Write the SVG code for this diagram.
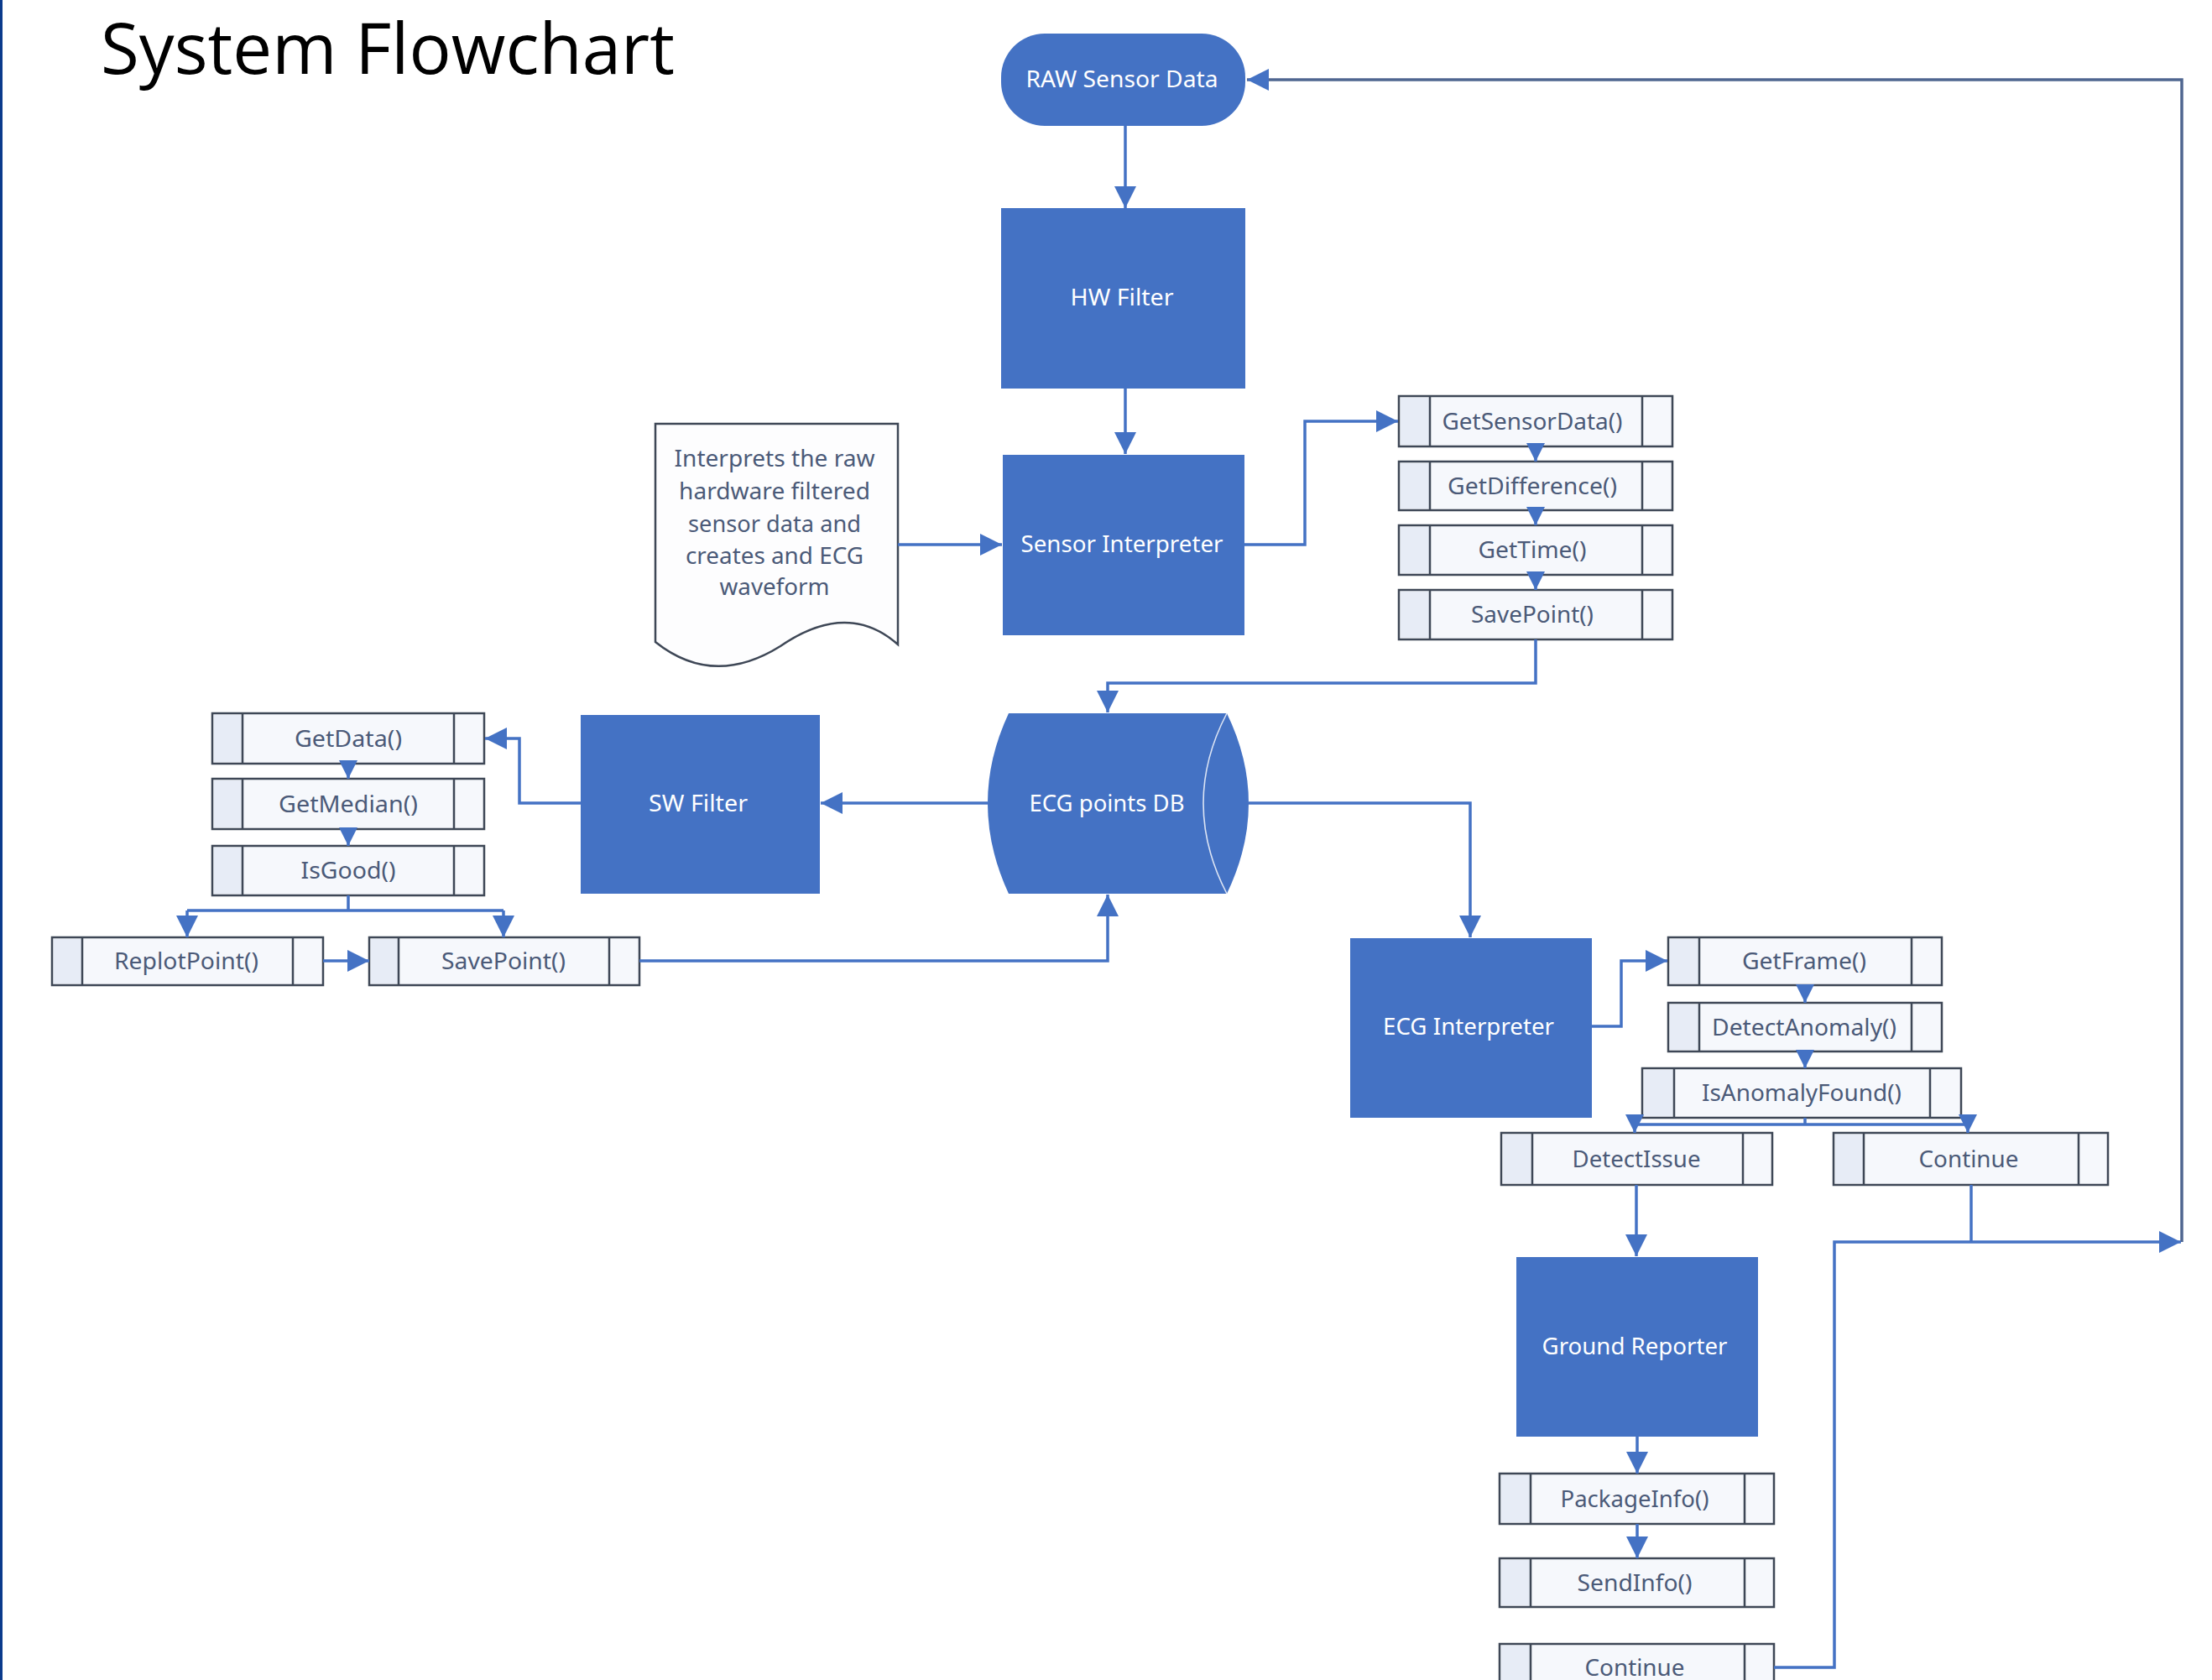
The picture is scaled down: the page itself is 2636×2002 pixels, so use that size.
<svg xmlns="http://www.w3.org/2000/svg" width="2636" height="2002" viewBox="0 0 2636 2002">
<style>
.bg{fill:#ffffff}
.node{fill:#4472C4}
.wt{font-family:"Noto Sans","Open Sans","Liberation Sans",sans-serif;font-size:27px;fill:#ffffff;text-anchor:middle}
.bt{font-family:"Noto Sans","Open Sans","Liberation Sans",sans-serif;font-size:28px;fill:#4B5A78;text-anchor:middle}
.box{fill:#F6F8FC;stroke:#3E4756;stroke-width:2.5}
.band{fill:#E7ECF6}
.div{stroke:#3E4756;stroke-width:2.5}
.con{fill:none;stroke:#4472C4;stroke-width:3.5}
.ret{fill:none;stroke:#4F6690;stroke-width:3.5}
.doc{fill:#FDFDFE;stroke:#3E4756;stroke-width:2.5}
</style>
<defs>
<marker id="ah" viewBox="0 0 10 10" refX="10" refY="5" markerWidth="28" markerHeight="26" markerUnits="userSpaceOnUse" orient="auto"><path d="M0,0 L10,5 L0,10 z" fill="#4472C4"/></marker>
<marker id="as" viewBox="0 0 10 10" refX="10" refY="5" markerWidth="24" markerHeight="22" markerUnits="userSpaceOnUse" orient="auto"><path d="M0,0 L10,5 L0,10 z" fill="#4472C4"/></marker>
</defs>
<rect class="bg" x="0" y="0" width="2636" height="2002"/>
<rect x="0" y="0" width="3" height="2002" fill="#0B3A8C"/>
<text x="120" y="88" font-family="'Open Sans','Liberation Sans',sans-serif" font-size="84" fill="#000000" textLength="684" lengthAdjust="spacingAndGlyphs">System Flowchart</text>

<g id="raw-sensor-data">
<rect class="node" x="1193" y="40" width="291" height="110" rx="52" ry="52"/>
<text class="wt" x="1337" y="104" textLength="229" lengthAdjust="spacingAndGlyphs">RAW Sensor Data</text>
</g>
<g id="hw-filter">
<rect class="node" x="1193" y="248" width="291" height="215"/>
<text class="wt" x="1337" y="364" textLength="123" lengthAdjust="spacingAndGlyphs">HW Filter</text>
</g>
<g id="sensor-interpreter">
<rect class="node" x="1195" y="542" width="288" height="215"/>
<text class="wt" x="1337" y="658" textLength="241" lengthAdjust="spacingAndGlyphs">Sensor Interpreter</text>
</g>
<g id="doc-note">
<path class="doc" d="M781,505 H1070 V768 Q1010,715 930,770 Q850,820 781,765 Z"/>
<text class="bt" x="923" y="556" textLength="239" lengthAdjust="spacingAndGlyphs">Interprets the raw</text>
<text class="bt" x="923" y="595" textLength="228" lengthAdjust="spacingAndGlyphs">hardware filtered</text>
<text class="bt" x="923" y="634" textLength="206" lengthAdjust="spacingAndGlyphs">sensor data and</text>
<text class="bt" x="923" y="672" textLength="212" lengthAdjust="spacingAndGlyphs">creates and ECG</text>
<text class="bt" x="923" y="709" textLength="131" lengthAdjust="spacingAndGlyphs">waveform</text>
</g>
<g id="ecg-points-db">
<path class="node" d="M1202,850 H1462 Q1514,957 1462,1065 H1202 Q1152,957 1202,850 Z"/>
<path d="M1462,850 Q1406,957 1462,1065" fill="none" stroke="#DCE4F4" stroke-width="1.6"/>
<text class="wt" x="1319" y="967" textLength="185" lengthAdjust="spacingAndGlyphs">ECG points DB</text>
</g>
<g id="sw-filter">
<rect class="node" x="692" y="852" width="285" height="213"/>
<text class="wt" x="832" y="967" textLength="118" lengthAdjust="spacingAndGlyphs">SW Filter</text>
</g>
<g id="ecg-interpreter">
<rect class="node" x="1609" y="1118" width="288" height="214"/>
<text class="wt" x="1750" y="1233" textLength="204" lengthAdjust="spacingAndGlyphs">ECG Interpreter</text>
</g>
<g id="ground-reporter">
<rect class="node" x="1807" y="1498" width="288" height="214"/>
<text class="wt" x="1948" y="1614" textLength="221" lengthAdjust="spacingAndGlyphs">Ground Reporter</text>
</g>

<g id="get-sensor-data"><rect class="box" x="1667" y="472" width="326" height="60"/><rect class="band" x="1669" y="474" width="35" height="56"/><path class="div" d="M1704,472 V532 M1957,472 V532"/><text class="bt" x="1826" y="512" textLength="215" lengthAdjust="spacingAndGlyphs">GetSensorData()</text></g>
<g id="get-difference"><rect class="box" x="1667" y="550" width="326" height="58"/><rect class="band" x="1669" y="552" width="35" height="54"/><path class="div" d="M1704,550 V608 M1957,550 V608"/><text class="bt" x="1826" y="589" textLength="202" lengthAdjust="spacingAndGlyphs">GetDifference()</text></g>
<g id="get-time"><rect class="box" x="1667" y="626" width="326" height="59"/><rect class="band" x="1669" y="628" width="35" height="55"/><path class="div" d="M1704,626 V685 M1957,626 V685"/><text class="bt" x="1826" y="665" textLength="129" lengthAdjust="spacingAndGlyphs">GetTime()</text></g>
<g id="save-point-1"><rect class="box" x="1667" y="703" width="326" height="59"/><rect class="band" x="1669" y="705" width="35" height="55"/><path class="div" d="M1704,703 V762 M1957,703 V762"/><text class="bt" x="1826" y="742" textLength="146" lengthAdjust="spacingAndGlyphs">SavePoint()</text></g>

<g id="get-data"><rect class="box" x="253" y="850" width="324" height="60"/><rect class="band" x="255" y="852" width="34" height="56"/><path class="div" d="M289,850 V910 M541,850 V910"/><text class="bt" x="415" y="890" textLength="128" lengthAdjust="spacingAndGlyphs">GetData()</text></g>
<g id="get-median"><rect class="box" x="253" y="928" width="324" height="60"/><rect class="band" x="255" y="930" width="34" height="56"/><path class="div" d="M289,928 V988 M541,928 V988"/><text class="bt" x="415" y="968" textLength="166" lengthAdjust="spacingAndGlyphs">GetMedian()</text></g>
<g id="is-good"><rect class="box" x="253" y="1008" width="324" height="59"/><rect class="band" x="255" y="1010" width="34" height="55"/><path class="div" d="M289,1008 V1067 M541,1008 V1067"/><text class="bt" x="415" y="1047" textLength="113" lengthAdjust="spacingAndGlyphs">IsGood()</text></g>
<g id="replot-point"><rect class="box" x="62" y="1117" width="323" height="57"/><rect class="band" x="64" y="1119" width="34" height="53"/><path class="div" d="M98,1117 V1174 M349,1117 V1174"/><text class="bt" x="222" y="1155" textLength="172" lengthAdjust="spacingAndGlyphs">ReplotPoint()</text></g>
<g id="save-point-2"><rect class="box" x="440" y="1117" width="322" height="57"/><rect class="band" x="442" y="1119" width="33" height="53"/><path class="div" d="M475,1117 V1174 M726,1117 V1174"/><text class="bt" x="600" y="1155" textLength="148" lengthAdjust="spacingAndGlyphs">SavePoint()</text></g>

<g id="get-frame"><rect class="box" x="1988" y="1117" width="326" height="57"/><rect class="band" x="1990" y="1119" width="35" height="53"/><path class="div" d="M2025,1117 V1174 M2278,1117 V1174"/><text class="bt" x="2150" y="1155" textLength="148" lengthAdjust="spacingAndGlyphs">GetFrame()</text></g>
<g id="detect-anomaly"><rect class="box" x="1988" y="1195" width="326" height="58"/><rect class="band" x="1990" y="1197" width="35" height="54"/><path class="div" d="M2025,1195 V1253 M2278,1195 V1253"/><text class="bt" x="2150" y="1234" textLength="220" lengthAdjust="spacingAndGlyphs">DetectAnomaly()</text></g>
<g id="is-anomaly-found"><rect class="box" x="1957" y="1273" width="380" height="59"/><rect class="band" x="1959" y="1275" width="36" height="55"/><path class="div" d="M1995,1273 V1332 M2300,1273 V1332"/><text class="bt" x="2147" y="1312" textLength="238" lengthAdjust="spacingAndGlyphs">IsAnomalyFound()</text></g>
<g id="detect-issue"><rect class="box" x="1789" y="1350" width="323" height="62"/><rect class="band" x="1791" y="1352" width="35" height="58"/><path class="div" d="M1826,1350 V1412 M2077,1350 V1412"/><text class="bt" x="1950" y="1391" textLength="153" lengthAdjust="spacingAndGlyphs">DetectIssue</text></g>
<g id="continue-1"><rect class="box" x="2185" y="1350" width="327" height="62"/><rect class="band" x="2187" y="1352" width="34" height="58"/><path class="div" d="M2221,1350 V1412 M2477,1350 V1412"/><text class="bt" x="2346" y="1391" textLength="119" lengthAdjust="spacingAndGlyphs">Continue</text></g>
<g id="package-info"><rect class="box" x="1787" y="1756" width="327" height="60"/><rect class="band" x="1789" y="1758" width="35" height="56"/><path class="div" d="M1824,1756 V1816 M2079,1756 V1816"/><text class="bt" x="1948" y="1796" textLength="177" lengthAdjust="spacingAndGlyphs">PackageInfo()</text></g>
<g id="send-info"><rect class="box" x="1787" y="1857" width="327" height="58"/><rect class="band" x="1789" y="1859" width="35" height="54"/><path class="div" d="M1824,1857 V1915 M2079,1857 V1915"/><text class="bt" x="1948" y="1896" textLength="137" lengthAdjust="spacingAndGlyphs">SendInfo()</text></g>
<g id="continue-2"><rect class="box" x="1787" y="1959" width="327" height="62"/><rect class="band" x="1789" y="1961" width="35" height="58"/><path class="div" d="M1824,1959 V2021 M2079,1959 V2021"/><text class="bt" x="1948" y="1997" textLength="119" lengthAdjust="spacingAndGlyphs">Continue</text></g>

<g id="connectors">
<path class="ret" d="M2600,1480 V95 H1486" marker-end="url(#ah)"/>
<path class="con" d="M1341,150 V248" marker-end="url(#ah)"/>
<path class="con" d="M1341,463 V541" marker-end="url(#ah)"/>
<path class="con" d="M1070,649 H1194" marker-end="url(#ah)"/>
<path class="con" d="M1483,649 H1555 V502 H1666" marker-end="url(#ah)"/>
<path class="con" d="M1830,532 V550" marker-end="url(#as)"/>
<path class="con" d="M1830,608 V626" marker-end="url(#as)"/>
<path class="con" d="M1830,685 V703" marker-end="url(#as)"/>
<path class="con" d="M1830,762 V814 H1320 V849" marker-end="url(#ah)"/>
<path class="con" d="M1177,957 H978" marker-end="url(#ah)"/>
<path class="con" d="M1488,957 H1752 V1117" marker-end="url(#ah)"/>
<path class="con" d="M692,957 H619 V880 H578" marker-end="url(#ah)"/>
<path class="con" d="M415,910 V928" marker-end="url(#as)"/>
<path class="con" d="M415,988 V1008" marker-end="url(#as)"/>
<path class="con" d="M415,1067 V1085 M223,1085 H600"/>
<path class="con" d="M223,1085 V1117" marker-end="url(#ah)"/>
<path class="con" d="M600,1085 V1117" marker-end="url(#ah)"/>
<path class="con" d="M385,1145 H440" marker-end="url(#ah)"/>
<path class="con" d="M762,1145 H1320 V1066" marker-end="url(#ah)"/>
<path class="con" d="M1897,1223 H1932 V1145 H1987" marker-end="url(#ah)"/>
<path class="con" d="M2151,1174 V1195" marker-end="url(#as)"/>
<path class="con" d="M2151,1253 V1273" marker-end="url(#as)"/>
<path class="con" d="M2151,1332 V1340 M1948,1340 H2345"/>
<path class="con" d="M1948,1336 V1350" marker-end="url(#as)"/>
<path class="con" d="M2345,1336 V1350" marker-end="url(#as)"/>
<path class="con" d="M1950,1412 V1497" marker-end="url(#ah)"/>
<path class="con" d="M2349,1412 V1480"/>
<path class="con" d="M1951,1712 V1756" marker-end="url(#ah)"/>
<path class="con" d="M1951,1816 V1857" marker-end="url(#ah)"/>
<path class="con" d="M2114,1987 H2186 V1480 H2599" marker-end="url(#ah)"/>
</g>
</svg>
